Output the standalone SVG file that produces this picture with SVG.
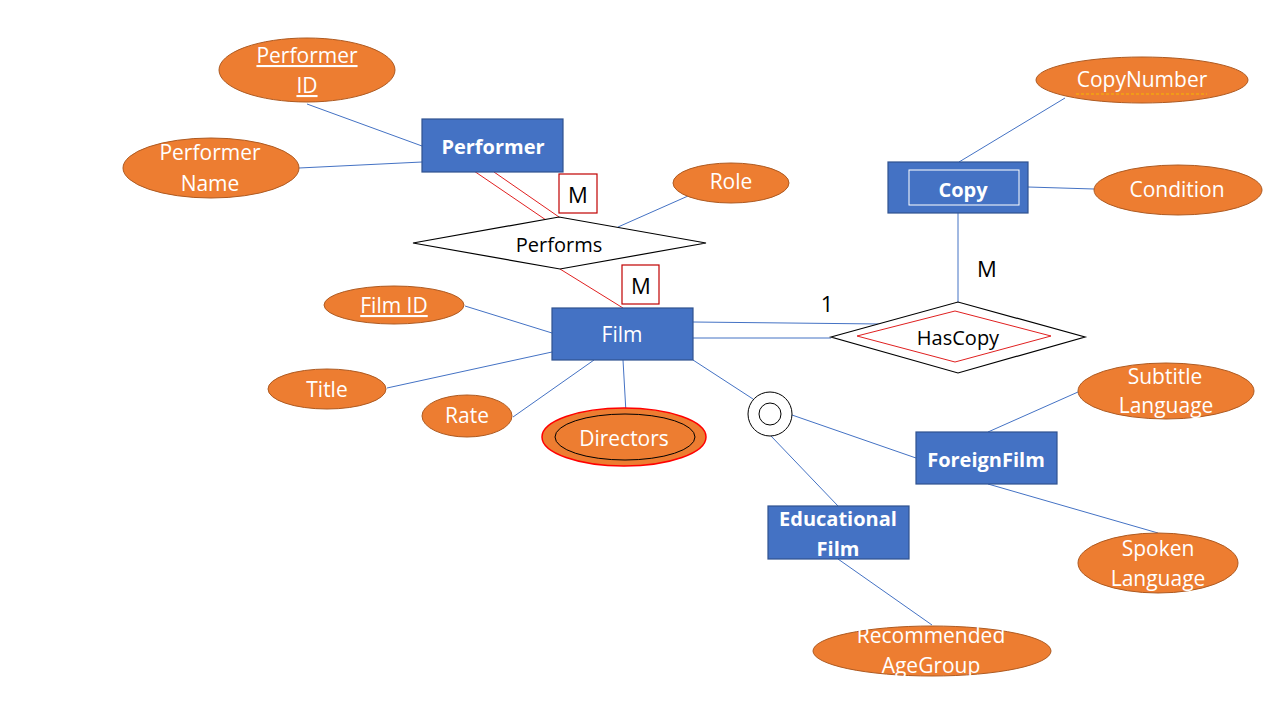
<svg xmlns="http://www.w3.org/2000/svg" width="1280" height="720" viewBox="0 0 1280 720">
<style>
.attr{fill:#ED7D31;stroke:#AE5A21;stroke-width:1}
.ent{fill:#4472C4;stroke:#2F528F;stroke-width:1.2}
.lbl{font-family:"Open Sans","DejaVu Sans",sans-serif;font-size:21px;fill:#fff;text-anchor:middle}
.b{font-weight:bold;font-size:20px}
.dk{fill:#000;font-size:20px}
.ln{stroke:#4472C4;stroke-width:1;fill:none}
.red{stroke:#E02020;stroke-width:1;fill:none}
.rel{fill:#fff;stroke:#000;stroke-width:1.2}
.mbox{fill:#fff;stroke:#C00000;stroke-width:1.2}
</style>
<rect width="1280" height="720" fill="#fff"/>
<g id="connectors">
<line class="ln" x1="307" y1="104" x2="422" y2="146"/>
<line class="ln" x1="299" y1="168" x2="422" y2="162"/>
<line class="red" x1="474" y1="171" x2="546" y2="220"/>
<line class="red" x1="494" y1="172" x2="559" y2="217"/>
<line class="red" x1="560" y1="269" x2="623" y2="308"/>
<line class="ln" x1="688" y1="196" x2="618" y2="227"/>
<line class="ln" x1="465" y1="306" x2="552" y2="333"/>
<line class="ln" x1="387" y1="388" x2="552" y2="352"/>
<line class="ln" x1="513" y1="417" x2="594" y2="360"/>
<line class="ln" x1="623" y1="360" x2="626" y2="413"/>
<line class="ln" x1="693" y1="322" x2="881" y2="324"/>
<line class="ln" x1="693" y1="338" x2="831" y2="338"/>
<line class="ln" x1="958" y1="213" x2="958" y2="302"/>
<line class="ln" x1="1065" y1="98" x2="959" y2="162"/>
<line class="ln" x1="1028" y1="187" x2="1094" y2="189"/>
<line class="ln" x1="693" y1="360" x2="753" y2="399"/>
<line class="ln" x1="792" y1="415" x2="916" y2="458"/>
<line class="ln" x1="771" y1="436" x2="838" y2="506"/>
<line class="ln" x1="988" y1="432" x2="1078" y2="392"/>
<line class="ln" x1="988" y1="484" x2="1158" y2="533"/>
<line class="ln" x1="838" y1="559" x2="932" y2="625"/>
</g>
<g id="performer-id">
<ellipse class="attr" cx="307" cy="70" rx="88" ry="32"/>
<text class="lbl" x="307" y="63" text-decoration="underline">Performer</text>
<text class="lbl" x="307" y="93" text-decoration="underline">ID</text>
</g>
<g id="performer-name">
<ellipse class="attr" cx="211" cy="168" rx="88" ry="30"/>
<text class="lbl" x="210" y="160">Performer</text>
<text class="lbl" x="210" y="191">Name</text>
</g>
<g id="performer">
<rect class="ent" x="422" y="119" width="141" height="53"/>
<text class="lbl b" x="493" y="154">Performer</text>
</g>
<g id="m-performer">
<rect class="mbox" x="559" y="174" width="38" height="39"/>
<text class="lbl dk" x="578" y="203" style="font-size:22px">M</text>
</g>
<g id="performs">
<polygon class="rel" points="413,243 559,217 706,243 560,269"/>
<text class="lbl dk" x="559" y="252">Performs</text>
</g>
<g id="role">
<ellipse class="attr" cx="731" cy="183" rx="58" ry="20"/>
<text class="lbl" x="731" y="189">Role</text>
</g>
<g id="m-film">
<rect class="mbox" x="622" y="265" width="37" height="39"/>
<text class="lbl dk" x="641" y="294" style="font-size:22px">M</text>
</g>
<g id="film">
<rect class="ent" x="552" y="308" width="141" height="52"/>
<text class="lbl" x="622" y="342">Film</text>
</g>
<g id="film-id">
<ellipse class="attr" cx="394" cy="305" rx="70" ry="19"/>
<text class="lbl" x="394" y="313" text-decoration="underline">Film ID</text>
</g>
<g id="title">
<ellipse class="attr" cx="327" cy="389" rx="59" ry="20"/>
<text class="lbl" x="327" y="397">Title</text>
</g>
<g id="rate">
<ellipse class="attr" cx="467" cy="416" rx="45" ry="21"/>
<text class="lbl" x="467" y="423">Rate</text>
</g>
<g id="directors">
<ellipse cx="624" cy="437" rx="82" ry="29" fill="#ED7D31" stroke="#FF0000" stroke-width="1.5"/>
<ellipse cx="625" cy="437" rx="70" ry="23" fill="none" stroke="#000" stroke-width="1"/>
<text class="lbl" x="624" y="446">Directors</text>
</g>
<g id="copy-number">
<ellipse class="attr" cx="1142" cy="80" rx="106" ry="23"/>
<text class="lbl" x="1142" y="87">CopyNumber</text>
<line x1="1076" y1="94" x2="1207" y2="94" stroke="#F5B800" stroke-width="1" stroke-dasharray="3,2"/>
</g>
<g id="copy">
<rect class="ent" x="888" y="162" width="140" height="51"/>
<rect x="909" y="170" width="110" height="35" fill="none" stroke="#fff" stroke-width="1"/>
<text class="lbl b" x="963" y="197">Copy</text>
</g>
<g id="condition">
<ellipse class="attr" cx="1178" cy="190" rx="84" ry="25"/>
<text class="lbl" x="1177" y="197">Condition</text>
</g>
<g id="labels">
<text class="lbl dk" x="987" y="277" style="font-size:22px">M</text>
<text class="lbl dk" x="827" y="312" style="font-size:22px">1</text>
</g>
<g id="hascopy">
<polygon class="rel" points="831,337 958,302 1085,337 958,373"/>
<polygon points="857,336 955,311 1051,336 955,362" fill="none" stroke="#E02020" stroke-width="1"/>
<text class="lbl dk" x="958" y="345">HasCopy</text>
</g>
<g id="specialization">
<circle cx="770" cy="414" r="22" fill="#fff" stroke="#000" stroke-width="1"/>
<circle cx="770" cy="414" r="11" fill="none" stroke="#000" stroke-width="1"/>
</g>
<g id="foreign-film">
<rect class="ent" x="916" y="432" width="141" height="52"/>
<text class="lbl b" x="986" y="467">ForeignFilm</text>
</g>
<g id="educational-film">
<rect class="ent" x="768" y="506" width="141" height="53"/>
<text class="lbl b" x="838" y="526">Educational</text>
<text class="lbl b" x="838" y="556">Film</text>
</g>
<g id="subtitle-language">
<ellipse class="attr" cx="1166" cy="391" rx="88" ry="28"/>
<text class="lbl" x="1165" y="384">Subtitle</text>
<text class="lbl" x="1166" y="413">Language</text>
</g>
<g id="spoken-language">
<ellipse class="attr" cx="1158" cy="563" rx="80" ry="30"/>
<text class="lbl" x="1158" y="556">Spoken</text>
<text class="lbl" x="1158" y="586">Language</text>
</g>
<g id="recommended-agegroup">
<ellipse class="attr" cx="932" cy="651" rx="119" ry="25"/>
<text class="lbl" x="931" y="643">Recommended</text>
<text class="lbl" x="931" y="673">AgeGroup</text>
</g>
</svg>
